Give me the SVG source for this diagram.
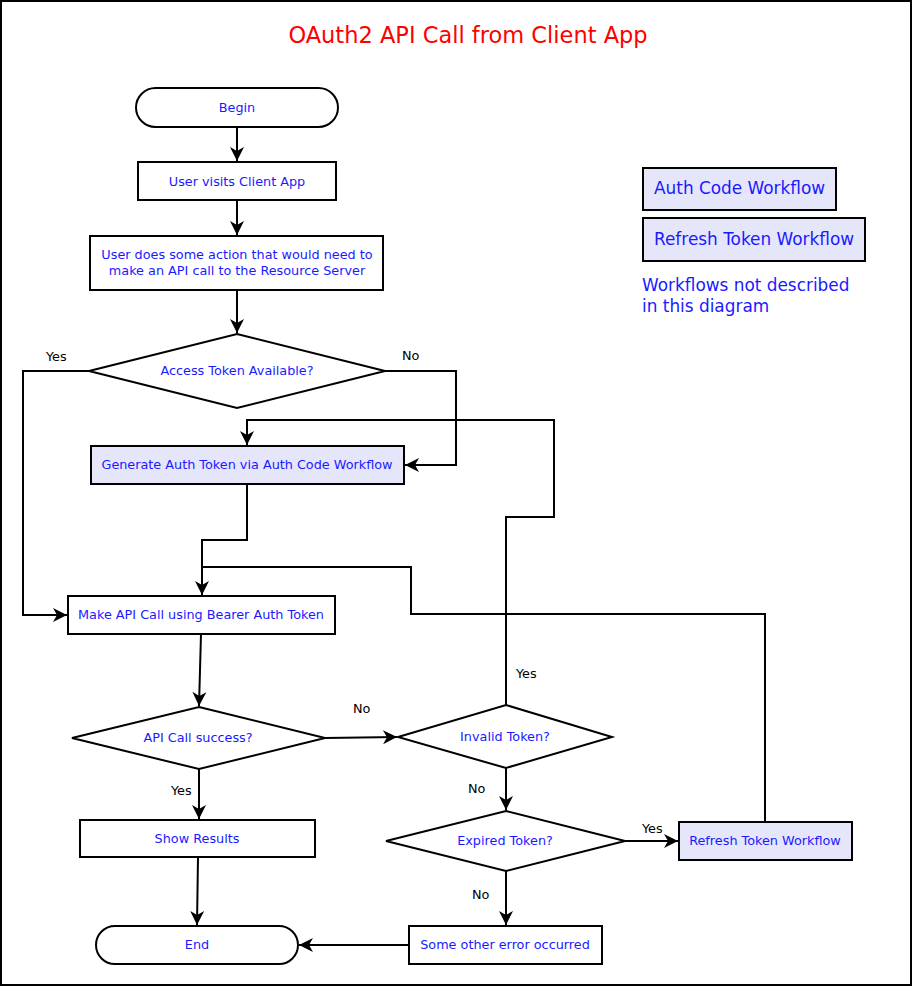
<svg xmlns="http://www.w3.org/2000/svg" width="913" height="987" viewBox="0 0 913 987">
  <style>
    .box { fill: #ffffff; stroke: #000000; stroke-width: 2; }
    .wf { fill: #e6e6fa; stroke: #000000; stroke-width: 2; }
    .t { font-family: "DejaVu Sans", sans-serif; font-size: 12.8px; fill: #1a1aff; text-anchor: middle; }
    .lbl { font-family: "DejaVu Sans", sans-serif; font-size: 12.8px; fill: #000000; }
    .big { font-family: "DejaVu Sans", sans-serif; font-size: 16.9px; fill: #1a1aff; }
    .edge { fill: none; stroke: #000000; stroke-width: 2; }
    .arr { marker-end: url(#ah); }
  </style>
  <defs>
    <marker id="ah" viewBox="-16 -8 17 16" refX="0" refY="0" markerWidth="17" markerHeight="16" orient="auto" markerUnits="userSpaceOnUse">
      <path d="M0,0 L-14,-7 L-10,0 L-14,7 Z" fill="#000000"/>
    </marker>
  </defs>

  <!-- frame -->
  <rect x="1" y="1" width="910" height="984" fill="#ffffff" stroke="#000000" stroke-width="2"/>

  <text x="468" y="43" font-family="DejaVu Sans, sans-serif" font-size="22.5" fill="#ff0000" text-anchor="middle">OAuth2 API Call from Client App</text>

  <!-- connectors -->
  <g id="connectors">
    <path class="edge arr" d="M237,127 L237,161"/>
    <path class="edge arr" d="M237,200 L237,235"/>
    <path class="edge arr" d="M237,290 L237,333"/>
    <!-- Access token: yes -->
    <path class="edge arr" d="M89,371 L23,371 L23,615 L67,615"/>
    <!-- Access token: no -->
    <path class="edge arr" d="M385,371 L456,371 L456,465 L405,465"/>
    <!-- generate -> make call -->
    <path class="edge arr" d="M247,484 L247,540 L202,540 L202,595"/>
    <!-- refresh -> make call -->
    <path class="edge" d="M765,822 L765,614 L411,614 L411,567 L202,567"/>
    <!-- invalid token: yes -> generate -->
    <path class="edge arr" d="M506,705 L506,517 L554,517 L554,420 L247,420 L247,445"/>
    <path class="edge arr" d="M201,634 L199,706"/>
    <path class="edge arr" d="M325,738 L397,737"/>
    <path class="edge arr" d="M199,769 L199,819"/>
    <path class="edge arr" d="M198,857 L197,925"/>
    <path class="edge arr" d="M506,768 L506,810"/>
    <path class="edge arr" d="M625,841 L678,841"/>
    <path class="edge arr" d="M506,871 L506,925"/>
    <path class="edge arr" d="M409,945 L299,945"/>

    <text class="lbl" x="46" y="361">Yes</text>
    <text class="lbl" x="402" y="360">No</text>
    <text class="lbl" x="353" y="713">No</text>
    <text class="lbl" x="516" y="678">Yes</text>
    <text class="lbl" x="171" y="795">Yes</text>
    <text class="lbl" x="468" y="793">No</text>
    <text class="lbl" x="642" y="833">Yes</text>
    <text class="lbl" x="472" y="899">No</text>
  </g>

  <g id="begin">
    <rect class="box" x="136" y="88" width="202" height="39" rx="19.5"/>
    <text class="t" x="237" y="112">Begin</text>
  </g>
  <g id="visit">
    <rect class="box" x="138" y="162" width="198" height="38"/>
    <text class="t" x="237" y="186">User visits Client App</text>
  </g>
  <g id="action">
    <rect class="box" x="90" y="236" width="293" height="54"/>
    <text class="t" x="237" y="259">User does some action that would need to</text>
    <text class="t" x="237" y="275">make an API call to the Resource Server</text>
  </g>
  <g id="token-available">
    <polygon class="box" points="237,334 385,371 237,408 89,371"/>
    <text class="t" x="237" y="375">Access Token Available?</text>
  </g>
  <g id="generate">
    <rect class="wf" x="91" y="446" width="313" height="38"/>
    <text class="t" x="247" y="469">Generate Auth Token via Auth Code Workflow</text>
  </g>
  <g id="make-call">
    <rect class="box" x="68" y="596" width="267" height="38"/>
    <text class="t" x="201" y="619">Make API Call using Bearer Auth Token</text>
  </g>
  <g id="call-success">
    <polygon class="box" points="199,707 325,738 199,769 72,738"/>
    <text class="t" x="198" y="742">API Call success?</text>
  </g>
  <g id="invalid-token">
    <polygon class="box" points="506,705 612,737 506,768 398,737"/>
    <text class="t" x="505" y="741">Invalid Token?</text>
  </g>
  <g id="expired-token">
    <polygon class="box" points="506,811 625,841 506,871 386,841"/>
    <text class="t" x="505" y="845">Expired Token?</text>
  </g>
  <g id="refresh">
    <rect class="wf" x="679" y="822" width="173" height="38"/>
    <text class="t" x="765" y="845">Refresh Token Workflow</text>
  </g>
  <g id="show-results">
    <rect class="box" x="80" y="820" width="235" height="37"/>
    <text class="t" x="197" y="843">Show Results</text>
  </g>
  <g id="other-error">
    <rect class="box" x="409" y="926" width="193" height="38"/>
    <text class="t" x="505" y="949">Some other error occurred</text>
  </g>
  <g id="end">
    <rect class="box" x="96" y="926" width="202" height="38" rx="19"/>
    <text class="t" x="197" y="949">End</text>
  </g>

  <!-- legend -->
  <g id="legend">
    <rect class="wf" x="643" y="168" width="193" height="42"/>
    <text class="big" x="654" y="194">Auth Code Workflow</text>
    <rect class="wf" x="643" y="218" width="222" height="43"/>
    <text class="big" x="654" y="245">Refresh Token Workflow</text>
    <text class="big" x="642" y="291">Workflows not described</text>
    <text class="big" x="642" y="312">in this diagram</text>
  </g>
</svg>
